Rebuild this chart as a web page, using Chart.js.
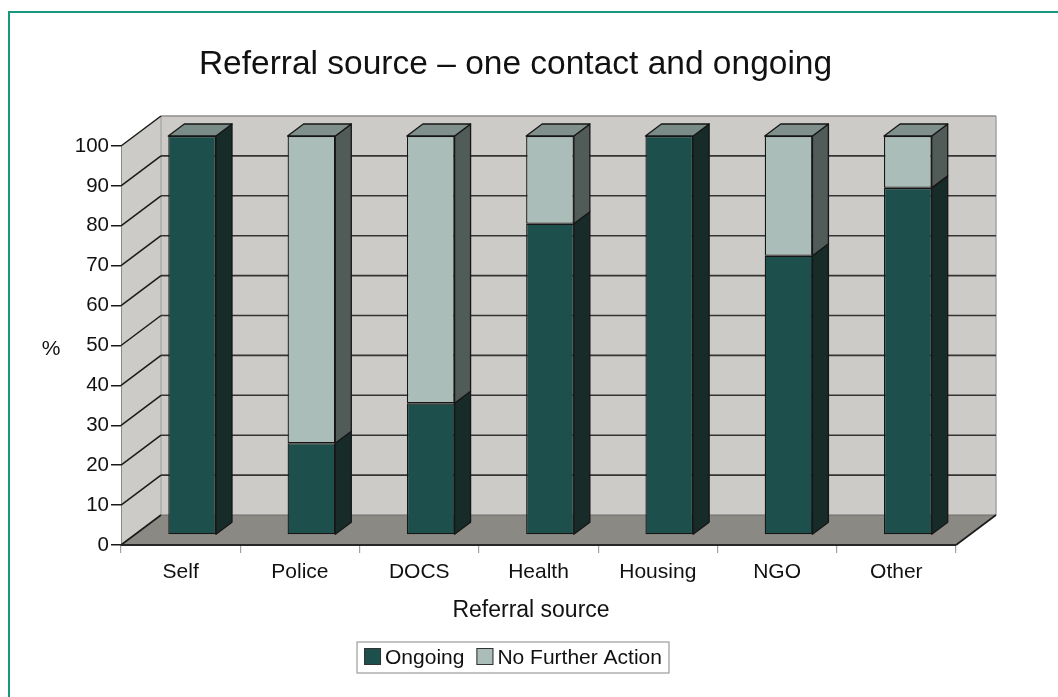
<!DOCTYPE html>
<html>
<head>
<meta charset="utf-8">
<script src="https://cdn.jsdelivr.net/npm/chart.js@4"></script>
<style>
  html, body { margin: 0; padding: 0; background: #fff; }
  canvas { display: block; }
</style>
</head>
<body>
<canvas id="chart" width="1058" height="697"></canvas>
<script>
// Referral source by outcome (% of clients)
const categories = ['Self', 'Police', 'DOCS', 'Health', 'Housing', 'NGO', 'Other'];
const ongoing = [100, 23, 33, 78, 100, 70, 87];
const noFurtherAction = [0, 77, 67, 22, 0, 30, 13];
const yTickValues = [0, 10, 20, 30, 40, 50, 60, 70, 80, 90, 100];
const seriesNames = ['Ongoing', 'No Further Action'];

const chartTitle = 'Referral source \u2013 one contact and ongoing';
const xTitle = 'Referral source';
const yTitle = '%';

// face colours: front, side, top
const faceColours = [
  { front: '#1d4f4c', side: '#172b29', top: '#7a8c88' },
  { front: '#aabdb9', side: '#515b58', top: '#80908c' }
];
const FONT = '"Liberation Sans", Arial, Helvetica, sans-serif';
const TEXT = '#111';

// oblique projection of the 3-D box
const WALL_DX = 40, WALL_DY = -30;    // full depth of walls / floor
const BAR_DX0 = 11.5, BAR_DY0 = -10;  // front face of the columns sits inside the box
const BAR_DDX = 16, BAR_DDY = -12;    // column depth

function poly(ctx, pts, fill, stroke, lw) {
  ctx.beginPath();
  ctx.moveTo(pts[0][0], pts[0][1]);
  for (let i = 1; i < pts.length; i++) ctx.lineTo(pts[i][0], pts[i][1]);
  ctx.closePath();
  if (fill) { ctx.fillStyle = fill; ctx.fill(); }
  if (stroke) { ctx.strokeStyle = stroke; ctx.lineWidth = lw || 1; ctx.lineJoin = 'round'; ctx.stroke(); }
}

function line(ctx, x1, y1, x2, y2, colour, lw) {
  ctx.beginPath();
  ctx.moveTo(x1, y1);
  ctx.lineTo(x2, y2);
  ctx.strokeStyle = colour;
  ctx.lineWidth = lw;
  ctx.stroke();
}

const box3d = {
  id: 'box3d',
  beforeDraw(chart) {
    const { ctx, width, height } = chart;
    ctx.save();
    ctx.fillStyle = '#fff';
    ctx.fillRect(0, 0, width, height);
    // page frame
    ctx.strokeStyle = '#17977f';
    ctx.lineWidth = 2;
    ctx.beginPath();
    ctx.moveTo(9, height);
    ctx.lineTo(9, 12);
    ctx.lineTo(width, 12);
    ctx.stroke();
    ctx.restore();
  },
  beforeDatasetsDraw(chart) {
    const { ctx, chartArea, scales } = chart;
    const L = chartArea.left, R = chartArea.right, T = chartArea.top, B = chartArea.bottom;
    const y = scales.y;
    ctx.save();
    // floor
    poly(ctx, [[L, B], [L + WALL_DX, B + WALL_DY], [R + WALL_DX, B + WALL_DY], [R, B]], '#8b8984');
    // side wall
    poly(ctx, [[L, B], [L, T], [L + WALL_DX, T + WALL_DY], [L + WALL_DX, B + WALL_DY]], '#cdcbc7');
    // back wall
    poly(ctx, [[L + WALL_DX, T + WALL_DY], [R + WALL_DX, T + WALL_DY], [R + WALL_DX, B + WALL_DY], [L + WALL_DX, B + WALL_DY]], '#cdcbc7');
    // wall edges
    line(ctx, L + 0.5, T, L + 0.5, B, '#8a8a8a', 1);
    line(ctx, L + WALL_DX, T + WALL_DY, L + WALL_DX, B + WALL_DY, '#9a9a9a', 1);
    line(ctx, R + WALL_DX, T + WALL_DY, R + WALL_DX, B + WALL_DY, '#a5a5a5', 1.5);
    line(ctx, L + WALL_DX, T + WALL_DY, R + WALL_DX, T + WALL_DY, '#8e8e8e', 1.5);
    // gridlines on side and back wall
    y.ticks.forEach(t => {
      const py = y.getPixelForValue(t.value);
      if (t.value > 0 && t.value < 100) {
        line(ctx, L + WALL_DX, py + WALL_DY, R + WALL_DX, py + WALL_DY, '#343434', 1.6);
      }
      if (t.value > 0) {
        line(ctx, L, py, L + WALL_DX, py + WALL_DY, '#1a1a1a', 1.5);
      }
    });
    // floor edges
    line(ctx, L + WALL_DX, B + WALL_DY, R + WALL_DX, B + WALL_DY, '#6f6e6a', 1);
    line(ctx, L, B, L + WALL_DX, B + WALL_DY, '#1a1a1a', 1.6);
    line(ctx, R, B, R + WALL_DX, B + WALL_DY, '#1a1a1a', 1.6);
    line(ctx, L, B, R, B, '#262626', 2);
    ctx.restore();

    // the columns' front faces are drawn by Chart.js inside the box
    ctx.save();
    ctx.translate(BAR_DX0, BAR_DY0);
  },
  afterDatasetsDraw(chart) {
    const { ctx } = chart;
    const metas = chart.data.datasets.map((d, i) => chart.getDatasetMeta(i));
    const n = chart.data.labels.length;
    for (let j = 0; j < n; j++) {
      // topmost non-empty segment of this column
      let topIdx = -1;
      metas.forEach((m, i) => {
        if (chart.data.datasets[i].data[j] > 0) topIdx = i;
      });
      metas.forEach((m, i) => {
        if (!(chart.data.datasets[i].data[j] > 0)) return;
        const el = m.data[j];
        const p = el.getProps(['x', 'y', 'base', 'width'], true);
        const xl = p.x - p.width / 2, xr = p.x + p.width / 2;
        const yt = Math.min(p.y, p.base), yb = Math.max(p.y, p.base);
        const col = faceColours[i];
        poly(ctx, [[xr, yb], [xr, yt], [xr + BAR_DDX, yt + BAR_DDY], [xr + BAR_DDX, yb + BAR_DDY]], col.side, '#161616', 1.3);
        if (i === topIdx) {
          poly(ctx, [[xl, yt], [xr, yt], [xr + BAR_DDX, yt + BAR_DDY], [xl + BAR_DDX, yt + BAR_DDY]], col.top, '#161616', 1.3);
        }
      });
    }
    ctx.restore();
  },
  afterDraw(chart) {
    const { ctx } = chart;
    ctx.save();
    ctx.fillStyle = TEXT;
    ctx.textBaseline = 'alphabetic';
    // chart title
    ctx.font = '33.5px ' + FONT;
    ctx.textAlign = 'center';
    ctx.fillText(chartTitle, 515.5, 74);
    // axis titles
    ctx.font = '23px ' + FONT;
    ctx.fillText(xTitle, 531, 617);
    ctx.font = '21px ' + FONT;
    ctx.fillText(yTitle, 51, 355);

    // legend
    ctx.font = '21px ' + FONT;
    ctx.textAlign = 'left';
    const sw = 17, gapText = 4, gapItem = 12, pad = 7;
    const widths = seriesNames.map(s => ctx.measureText(s).width);
    const total = pad * 2 + seriesNames.length * (sw + gapText) + widths.reduce((a, b) => a + b, 0) + gapItem * (seriesNames.length - 1);
    const bx = 513 - total / 2, by = 642, bh = 31;
    ctx.strokeStyle = '#9c9c9c';
    ctx.lineWidth = 1.2;
    ctx.strokeRect(bx, by, total, bh);
    let x = bx + pad;
    seriesNames.forEach((s, i) => {
      ctx.fillStyle = faceColours[i].front;
      ctx.fillRect(x, by + 6, sw, sw);
      ctx.strokeStyle = '#333';
      ctx.lineWidth = 1;
      ctx.strokeRect(x + 0.5, by + 6.5, sw - 1, sw - 1);
      x += sw + gapText;
      ctx.fillStyle = TEXT;
      ctx.fillText(s, x, by + 22);
      x += widths[i] + gapItem;
    });
    ctx.restore();
  }
};

new Chart(document.getElementById('chart'), {
  type: 'bar',
  data: {
    labels: categories,
    datasets: [
      {
        label: seriesNames[0],
        data: ongoing,
        backgroundColor: faceColours[0].front,
        borderColor: '#161616',
        borderWidth: 1.3,
        borderSkipped: false,
        clip: false
      },
      {
        label: seriesNames[1],
        data: noFurtherAction,
        backgroundColor: faceColours[1].front,
        borderColor: '#161616',
        borderWidth: 1.3,
        borderSkipped: false,
        clip: false
      }
    ]
  },
  options: {
    responsive: false,
    animation: false,
    events: [],
    devicePixelRatio: 1,
    categoryPercentage: 1,
    barPercentage: 0.4,
    layout: { padding: { top: 146, right: 102, bottom: 0, left: 0 } },
    plugins: {
      legend: { display: false },
      title: { display: false },
      tooltip: { enabled: false }
    },
    scales: {
      x: {
        stacked: true,
        offset: true,
        grid: { display: true, drawOnChartArea: false, drawTicks: true, tickLength: 8, color: '#a0a0a0', lineWidth: 1.2, offset: true },
        border: { display: false },
        ticks: { color: TEXT, font: { family: FONT, size: 21 }, padding: 7, maxRotation: 0 },
        afterFit(scale) { scale.height = 152; }
      },
      y: {
        stacked: true,
        min: 0,
        max: 100,
        afterBuildTicks(scale) { scale.ticks = yTickValues.map(v => ({ value: v })); },
        grid: { display: true, drawOnChartArea: false, drawTicks: true, tickLength: 10, color: '#1a1a1a', lineWidth: 1.5 },
        border: { display: false },
        ticks: { color: TEXT, font: { family: FONT, size: 20.5 }, padding: 2 },
        afterFit(scale) { scale.width = 121; }
      }
    }
  },
  plugins: [box3d]
});
</script>
</body>
</html>
